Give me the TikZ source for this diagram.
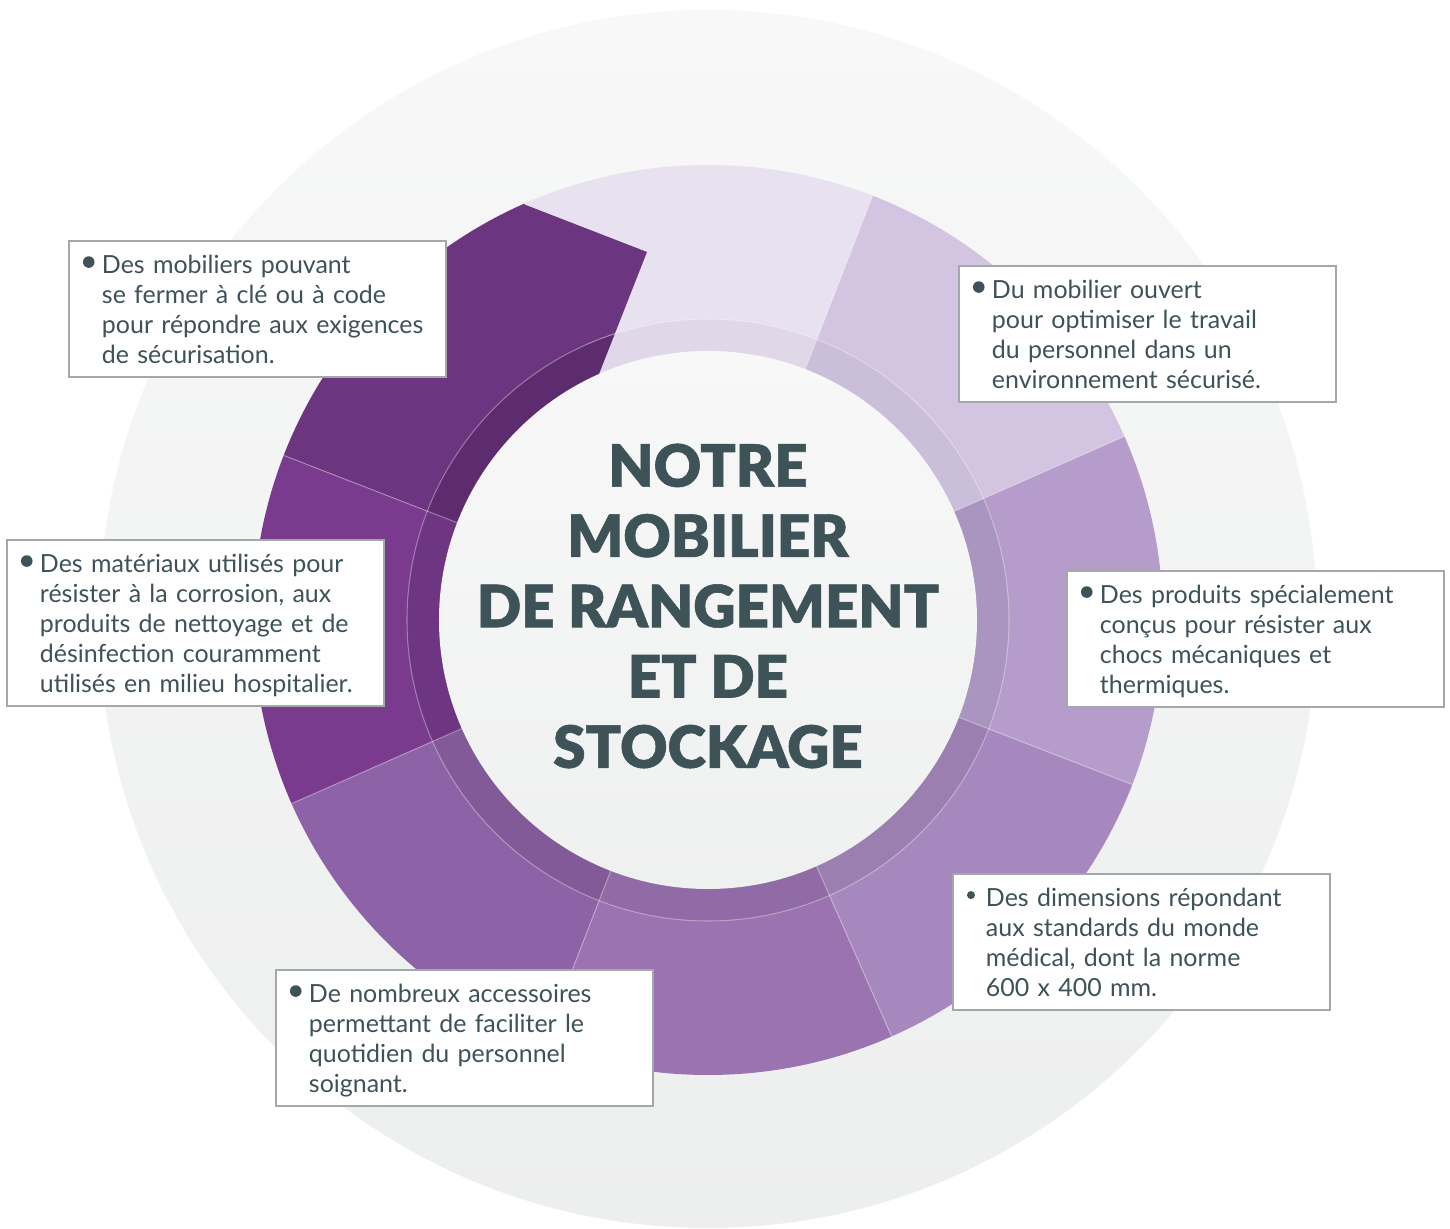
\documentclass[tikz,border=0pt]{standalone}
\usepackage{fontspec}
\setmainfont{Lato}
\newfontfamily\titlefont{Lato Black}[FakeBold=1]

\definecolor{bgtop}{HTML}{F8F8F8}
\definecolor{bgbot}{HTML}{EDEEEE}
\definecolor{midtop}{HTML}{F8F8F8}
\definecolor{midbot}{HTML}{EFF0F0}
\definecolor{segA}{HTML}{6B357F}
\definecolor{segAd}{HTML}{5D2C6E}
\definecolor{segB}{HTML}{E8E1EF}
\definecolor{segBd}{HTML}{E0D8E8}
\definecolor{segC}{HTML}{D3C5E1}
\definecolor{segCd}{HTML}{CBBEDB}
\definecolor{segD}{HTML}{B59CCA}
\definecolor{segDd}{HTML}{AA94C0}
\definecolor{segE}{HTML}{A788BE}
\definecolor{segEd}{HTML}{9B7FB0}
\definecolor{segF}{HTML}{9A73B0}
\definecolor{segFd}{HTML}{906BA6}
\definecolor{segG}{HTML}{8E62A6}
\definecolor{segGd}{HTML}{825A97}
\definecolor{segH}{HTML}{7A3B8E}
\definecolor{segHd}{HTML}{6D3582}
\definecolor{boxline}{HTML}{A3A8AA}
\definecolor{txt}{HTML}{3E5257}
\definecolor{titre}{HTML}{3D5358}

% round bullet in front of each text (the rule lowers the first line a little)
\newcommand{\puce}[1][0.58mm]{\rule{0pt}{7pt}\makebox[1.9mm][l]{\tikz[baseline=0pt]\fill[txt] (#1,1.1mm) circle[radius=#1];}}

\begin{document}
\begin{tikzpicture}[x=0.1mm,y=0.1mm,
	info box/.style={draw=boxline,line width=0.55pt,fill=white,anchor=north west,text width=34.9mm,inner xsep=1.4mm,inner ysep=0.75mm,font=\fontsize{7.1}{8.6}\selectfont,text=txt},
	title text/.style={font=\fontsize{16.6}{20}\titlefont,align=center,text=titre},
	fine line/.style={white,opacity=0.35,line width=0.3pt}]

	\useasboundingbox (-708,620) rectangle (742,-609);
	\fill[white] (-708,620) rectangle (742,-609);
	\shade[top color=bgtop,bottom color=bgbot] (0,1) circle[radius=609];

	% ring: the segments, then their darker inner band
	\foreach \r/\s in {455/,301/d} {
		\begin{scope}
			\clip (0,0) circle[radius=\r];
			\foreach \a/\p in {68.8/B,23.8/C,-21.2/D,-66.2/E,-111.2/F,-156.2/G,-201.2/H}
				\fill[seg\p\s] (0,0) -- (\a:470) arc[start angle=\a,end angle=\a+45,radius=470] -- cycle;
			\fill[segA\s] (0,0) -- (158.8:470) arc[start angle=158.8,end angle=113.8,radius=470]
				-- (113.8:454) -- (-61,368) -- (-120,218) -- cycle;
		\end{scope}
	}
	\foreach \a in {23.8,68.8,158.8,203.8,248.8,293.8,338.8}
		\draw[fine line] (\a:269) -- (\a:455);
	\draw[fine line] (0,0) circle[radius=301];

	\shade[top color=midtop,bottom color=midbot] (0,0) circle[radius=269];
	\node[title text] at (0,14) (titre) {NOTRE\\MOBILIER\\DE RANGEMENT\\ET DE\\STOCKAGE};

	\node[info box] at (-640,380) (verrou) {\begin{tabular}{@{}l@{}l@{}}
		\puce & Des mobiliers pouvant\\
		& se fermer à clé ou à code\\
		& pour répondre aux exigences\\
		& de sécurisation.\\[-1pt]\end{tabular}};
	\node[info box] at (250,355) (ouvert) {\begin{tabular}{@{}l@{}l@{}}
		\puce & Du mobilier ouvert\\
		& pour optimiser le travail\\
		& du personnel dans un\\
		& environnement sécurisé.\\[-1pt]\end{tabular}};
	\node[info box] at (-702,81) (materiaux) {\begin{tabular}{@{}l@{}l@{}}
		\puce & Des matériaux utilisés pour\\
		& résister à la corrosion, aux\\
		& produits de nettoyage et de\\
		& désinfection couramment\\
		& utilisés en milieu hospitalier.\\[-1pt]\end{tabular}};
	\node[info box] at (358,50) (chocs) {\begin{tabular}{@{}l@{}l@{}}
		\puce & Des produits spécialement\\
		& conçus pour résister aux\\
		& chocs mécaniques et\\
		& thermiques.\\[-1pt]\end{tabular}};
	\node[info box] at (244,-253) (normes) {\begin{tabular}{@{}l@{}l@{}}
		\puce[0.4mm] & Des dimensions répondant\\
		& aux standards du monde\\
		& médical, dont la norme\\
		& 600 x 400 mm.\\[-1pt]\end{tabular}};
	\node[info box] at (-433,-349) (accessoires) {\begin{tabular}{@{}l@{}l@{}}
		\puce & De nombreux accessoires\\
		& permettant de faciliter le\\
		& quotidien du personnel\\
		& soignant.\\[-1pt]\end{tabular}};
\end{tikzpicture}
\end{document}
